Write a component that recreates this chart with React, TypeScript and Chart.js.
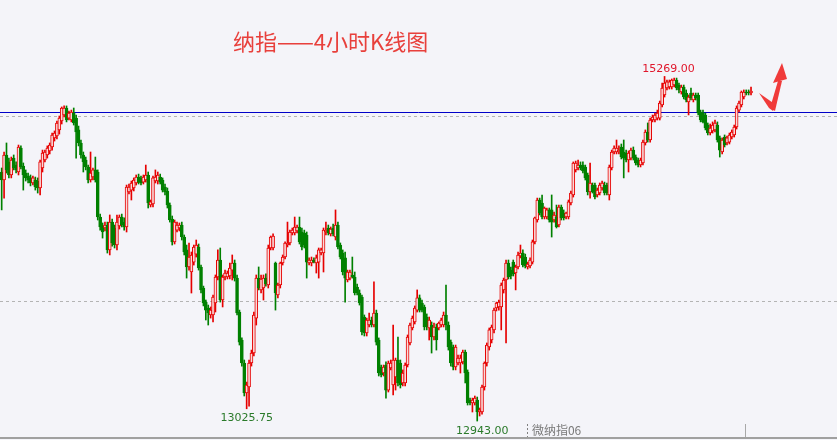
import React, { useEffect, useRef } from "react";
import { Chart, registerables } from "chart.js";

Chart.register(...registerables);

// ---- 4-hour candles (OHLC), oldest first ----
const opens = [
  14624, 14570, 14739, 14692, 14604, 14718, 14671, 14624, 14786, 14664,
  14617, 14597, 14584, 14550, 14570, 14563, 14516, 14651, 14705, 14739,
  14766, 14793, 14854, 14867, 14908, 14968, 15009, 15056, 14988, 14975,
  15022, 14988, 14908, 14820, 14739, 14705, 14658, 14570, 14590, 14638,
  14624, 14320, 14260, 14246, 14266, 14098, 14286, 14246, 14131, 14260,
  14320, 14286, 14253, 14489, 14502, 14516, 14550, 14590, 14584, 14556,
  14570, 14604, 14401, 14408, 14563, 14563, 14590, 14570, 14523, 14496,
  14401, 14307, 14152, 14232, 14246, 14266, 14185, 14098, 13983, 13949,
  14016, 14070, 14118, 13983, 13841, 13746, 13706, 13659, 13659, 13740,
  13915, 14030, 13760, 13915, 13915, 13922, 13962, 14010, 13908, 13679,
  13490, 13335, 13132, 13173, 13335, 13402, 13638, 13908, 13828, 13841,
  13908, 13861, 14111, 14111, 14010, 13794, 13861, 14010, 14050, 14131,
  14145, 14212, 14212, 14226, 14253, 14219, 14212, 14199, 14010, 14010,
  14030, 14010, 14016, 14077, 14077, 14219, 14246, 14206, 14246, 14185,
  14266, 14131, 14077, 14044, 13895, 13908, 13929, 13915, 13848, 13807,
  13780, 13645, 13537, 13591, 13625, 13591, 13672, 13490, 13308, 13267,
  13321, 13152, 13301, 13186, 13240, 13355, 13335, 13200, 13200, 13321,
  13470, 13571, 13612, 13692, 13774, 13740, 13713, 13645, 13571, 13591,
  13510, 13578, 13571, 13591, 13591, 13659, 13591, 13476, 13443, 13308,
  13335, 13335, 13342, 13409, 13274, 13085, 13065, 13065,
  13085, 13004, 13004, 13173, 13335, 13443, 13490, 13558, 13706, 13713, 13713,
  13828, 13895, 14010, 13962,
  14016, 13942, 13983, 14057, 14077, 14050, 13983, 13990,
  14016, 14152, 14300, 14435, 14415, 14320, 14320, 14368, 14368, 14300,
  14320, 14266, 14388, 14347, 14320, 14320, 14415, 14469, 14638,
  14651, 14671, 14671, 14658, 14604, 14489, 14536, 14536, 14469, 14482,
  14516, 14536, 14536, 14469, 14651, 14759, 14759, 14759, 14793, 14759,
  14752, 14705, 14718, 14772, 14725, 14705, 14671, 14685, 14820, 14894,
  14840, 14975, 14975, 14988, 14988, 15076, 15144, 15191,
  15198, 15198, 15211, 15245, 15211, 15164, 15198, 15157, 15097, 15157, 15110,
  15144, 15144, 15029, 15022, 15009, 14941, 14887, 14901,
  14908, 14941, 14854, 14759, 14860, 14820, 14826, 14860, 14874, 14928,
  15042, 15076, 15130, 15164,
  15164, 15157,
];

const highs = [
  14651, 14759, 14820, 14718, 14725, 14739, 14692, 14806, 14800, 14685,
  14638, 14617, 14604, 14597, 14590, 14584, 14705, 14772, 14772, 14800,
  14820, 14887, 14901, 14968, 15002, 15063, 15070, 15070, 15036, 15042,
  15056, 15009, 14934, 14840, 14759, 14725, 14671, 14759, 14651, 14725,
  14638, 14340, 14280, 14286, 14286, 14334, 14307, 14266, 14334, 14334,
  14340, 14314, 14536, 14543, 14563, 14584, 14604, 14610, 14597, 14604,
  14671, 14624, 14435, 14597, 14638, 14624, 14610, 14584, 14543, 14516,
  14415, 14327, 14300, 14286, 14280, 14286, 14199, 14131, 14145, 14084,
  14131, 14165, 14138, 13996, 13854, 13760, 13726, 13713, 13794, 13929,
  14098, 14111, 13929, 13962, 13956, 14010, 14064, 14030, 13929, 13692,
  13504, 13355, 13206, 13355, 13422, 13679, 13929, 13983, 13929, 13929,
  13936, 14131, 14192, 14206, 14016, 13875, 14016, 14064, 14152, 14286,
  14232, 14246, 14320, 14266, 14320, 14246, 14232, 14219, 14044, 14050,
  14044, 14064, 14111, 14111, 14246, 14286, 14266, 14253, 14273, 14368,
  14286, 14145, 14098, 14084, 13962, 13962, 14050, 13949, 13868, 13828,
  13794, 13659, 13638, 13672, 13645, 13882, 13692, 13504, 13321, 13321,
  13342, 13348, 13355, 13591, 13368, 13510, 13355, 13288, 13335, 13524,
  13605, 13652, 13720, 13828, 13794, 13760, 13726, 13666, 13645, 13612,
  13605, 13598, 13612, 13638, 13679, 13861, 13612, 13490, 13456, 13456,
  13389, 13389, 13422, 13422, 13288, 13098, 13098, 13112,
  13105, 13031, 13186, 13342, 13470, 13571, 13591, 13706, 13746, 13760, 13875,
  13908, 14030, 14030, 13983,
  14030, 13996, 14084, 14131, 14098, 14070, 14016, 14044,
  14165, 14320, 14448, 14448, 14469, 14388, 14381, 14381, 14469, 14354,
  14401, 14401, 14401, 14368, 14354, 14435, 14496, 14692, 14698,
  14705, 14692, 14692, 14671, 14617, 14685, 14550, 14550, 14516, 14550,
  14563, 14556, 14550, 14671, 14772, 14800, 14840, 14800, 14813, 14840,
  14772, 14766, 14786, 14793, 14739, 14718, 14718, 14840, 14908, 14955,
  14988, 15009, 15022, 15042, 15103, 15225, 15269, 15245,
  15245, 15252, 15258, 15258, 15225, 15211, 15211, 15178, 15144, 15191, 15157,
  15157, 15157, 15042, 15042, 15022, 14955, 14948, 14962,
  14975, 14962, 14867, 14854, 14874, 14867, 14887, 14908, 14941, 15070,
  15103, 15171, 15178, 15178,
  15178, 15198,
];

const lows = [
  14368, 14448, 14617, 14584, 14584, 14638, 14617, 14604, 14644, 14502,
  14563, 14550, 14530, 14536, 14502, 14482, 14469, 14624, 14692, 14718,
  14746, 14772, 14833, 14847, 14880, 14948, 14995, 14962, 14975, 14962,
  14941, 14718, 14800, 14718, 14624, 14638, 14550, 14556, 14570, 14556,
  14300, 14232, 14178, 14226, 14077, 14064, 14124, 14111, 14098, 14239,
  14253, 14232, 14219, 14476, 14435, 14496, 14536, 14543, 14536, 14543,
  14556, 14381, 14388, 14388, 14550, 14543, 14543, 14489, 14469, 14381,
  14286, 14131, 14138, 14219, 14226, 14165, 14064, 13908, 13962, 13807,
  13996, 14050, 13962, 13807, 13720, 13625, 13591, 13638, 13612, 13679,
  13895, 13746, 13713, 13895, 13902, 13902, 13895, 13888, 13659, 13456,
  13314, 13112, 13025.75, 13044, 13314, 13382, 13591, 13828, 13807, 13760,
  13854, 13841, 14098, 14098, 13692, 13774, 13841, 13996, 14037, 14118,
  14131, 14199, 14199, 14212, 14138, 14098, 14111, 13908, 13996, 13990,
  14010, 13942, 13908, 14064, 13949, 14199, 14199, 14192, 14192, 14165,
  14104, 14037, 13929, 13746, 13882, 13895, 13908, 13794, 13794, 13726,
  13524, 13517, 13517, 13578, 13578, 13578, 13456, 13247, 13240, 13247,
  13098, 13139, 13288, 13119, 13152, 13180, 13166, 13180, 13180, 13308,
  13456, 13558, 13598, 13679, 13679, 13679, 13558, 13558, 13490, 13402,
  13490, 13422, 13558, 13578, 13578, 13558, 13422, 13314, 13288, 13288,
  13321, 13267, 13328, 13200, 13051, 13051, 13004, 13051,
  12943, 12977, 12990, 13152, 13314, 13422, 13470, 13537, 13686, 13692, 13558,
  13807, 13470, 13902, 13902,
  13922, 13828, 13969, 14044, 13983, 13976, 13969, 13976,
  14003, 14138, 14286, 14334, 14307, 14307, 14307, 14286, 14185, 14286,
  14246, 14253, 14300, 14300, 14307, 14307, 14401, 14455, 14624,
  14638, 14638, 14617, 14570, 14469, 14448, 14482, 14442, 14455, 14469,
  14502, 14469, 14469, 14435, 14638, 14746, 14746, 14746, 14712, 14584,
  14692, 14624, 14705, 14705, 14671, 14658, 14658, 14671, 14806, 14826,
  14826, 14962, 14962, 14975, 14975, 15063, 15130, 15178,
  15184, 15184, 15198, 15178, 15157, 15150, 15117, 15097, 15009, 15110, 15097,
  15110, 15009, 14962, 14955, 14908, 14874, 14874, 14887,
  14894, 14826, 14725, 14746, 14793, 14806, 14813, 14847, 14860, 14914,
  15029, 15063, 15117, 15144,
  15144, 15144,
];

const closes = [
  14570, 14739, 14638, 14604, 14705, 14651, 14638, 14793, 14658, 14604,
  14584, 14570, 14550, 14584, 14523, 14516, 14692, 14752, 14759, 14786,
  14806, 14874, 14887, 14955, 14988, 15056, 15056, 14975, 15022, 15029,
  14955, 14894, 14820, 14739, 14692, 14658, 14570, 14617, 14638, 14570,
  14320, 14253, 14219, 14266, 14098, 14286, 14145, 14131, 14286, 14320,
  14266, 14253, 14523, 14523, 14550, 14570, 14590, 14556, 14550, 14590,
  14604, 14415, 14422, 14584, 14590, 14604, 14556, 14502, 14489, 14401,
  14300, 14152, 14286, 14266, 14266, 14185, 14084, 13983, 14050, 14064,
  14118, 14131, 13976, 13828, 13740, 13692, 13672, 13692, 13780, 13915,
  14030, 13760, 13915, 13942, 13942, 13976, 14010, 13908, 13672, 13476,
  13335, 13132, 13186, 13335, 13402, 13659, 13908, 13841, 13902, 13908,
  13868, 14111, 14185, 14192, 13807, 13861, 14010, 14050, 14145, 14145,
  14219, 14232, 14253, 14253, 14152, 14118, 14131, 14016, 14030, 14030,
  14016, 14044, 14098, 14098, 14232, 14232, 14212, 14239, 14206, 14266,
  14118, 14050, 13949, 13908, 13949, 13949, 13915, 13807, 13807, 13740,
  13544, 13537, 13625, 13625, 13591, 13672, 13476, 13267, 13254, 13308,
  13152, 13335, 13335, 13355, 13355, 13200, 13186, 13267, 13321, 13510,
  13591, 13638, 13706, 13774, 13692, 13692, 13578, 13578, 13625, 13510,
  13578, 13490, 13605, 13625, 13659, 13591, 13443, 13335, 13308, 13443,
  13368, 13368, 13409, 13267, 13065, 13065, 13085, 13098,
  13004, 13018, 13173, 13335, 13456, 13558, 13578, 13692, 13740, 13746, 13861,
  13895, 14010, 13915, 13922,
  13936, 13983, 14064, 14077, 13996, 13990, 14003, 14030,
  14152, 14314, 14435, 14347, 14320, 14381, 14368, 14300, 14286, 14334,
  14253, 14388, 14314, 14314, 14347, 14422, 14482, 14685, 14685,
  14671, 14651, 14631, 14584, 14489, 14550, 14489, 14455, 14502, 14536,
  14550, 14482, 14482, 14658, 14759, 14786, 14786, 14772, 14725, 14718,
  14705, 14752, 14772, 14718, 14685, 14671, 14705, 14826, 14894, 14840,
  14975, 14995, 15009, 15022, 15090, 15191, 15225, 15232,
  15232, 15245, 15245, 15191, 15178, 15198, 15130, 15110, 15130, 15124, 15144,
  15124, 15022, 14975, 14962, 14921, 14887, 14921, 14941,
  14955, 14840, 14772, 14840, 14806, 14854, 14874, 14894, 14928, 15056,
  15090, 15164, 15164, 15157,
  15157, 15171,
];

// ---- reference levels and annotations ----
const gridLevels = [15000, 13750];
const resistanceLevel = 15030;
const sessionBreaks = [218.7, 309.5];
const sessionLabel = "微纳指06";
const titleText = "纳指——4小时K线图";
const arrowAnchor = { index: 321.15, value: 15042 };

const UP = "#e60000";
const DOWN = "#008000";
const BG = "#f4f4f9";

export default function App() {
  const ref = useRef<HTMLCanvasElement>(null);

  useEffect(() => {
    const canvas = ref.current;
    if (!canvas) return;
    const n = Math.min(opens.length, highs.length, lows.length, closes.length);
    const idx = Array.from({ length: n }, (_, i) => i);
    const isUp = idx.map((i) => closes[i] >= opens[i]);
    const color = idx.map((i) => (isUp[i] ? UP : DOWN));
    const bodyFill = idx.map((i) => (isUp[i] ? "#f9dada" : DOWN));
    const bodyData = idx.map((i) => ({
      x: i,
      y: [Math.min(opens[i], closes[i]), Math.max(opens[i], closes[i])],
    }));
    const wickData = idx.map((i) => ({ x: i, y: [lows[i], highs[i]] }));

    // markers derived from the data
    let hiI = 0;
    let loI = 0;
    idx.forEach((i) => {
      if (highs[i] > highs[hiI]) hiI = i;
      if (lows[i] < lows[loI]) loI = i;
    });
    let loI1 = 0;
    for (let i = 0; i < 150; i++) if (lows[i] < lows[loI1]) loI1 = i;
    const markers = [
      { i: hiI, v: highs[hiI], c: "#e0162b", dx: 4, dy: -4.5 },
      { i: loI1, v: lows[loI1], c: "#2a7a2a", dx: 0, dy: 12 },
      { i: loI, v: lows[loI], c: "#2a7a2a", dx: 5, dy: 13 },
    ];

    const overlay = {
      id: "overlay",
      beforeDatasetsDraw(chart: any) {
        const { ctx, width, height } = chart;
        const x = chart.scales.x;
        const y = chart.scales.y;
        ctx.save();
        ctx.lineWidth = 1;
        ctx.setLineDash([3, 3]);
        ctx.strokeStyle = "#b4b4b4";
        gridLevels.forEach((v) => {
          const py = Math.round(y.getPixelForValue(v)) + 0.5;
          ctx.beginPath();
          ctx.moveTo(0, py);
          ctx.lineTo(width, py);
          ctx.stroke();
        });
        ctx.setLineDash([]);
        ctx.strokeStyle = "#0000c8";
        const ry = Math.round(y.getPixelForValue(resistanceLevel)) + 0.5;
        ctx.beginPath();
        ctx.moveTo(0, ry);
        ctx.lineTo(width, ry);
        ctx.stroke();
        // bottom axis line
        ctx.strokeStyle = "#a0a0a0";
        ctx.lineWidth = 2;
        ctx.beginPath();
        ctx.moveTo(0, height - 2);
        ctx.lineTo(width, height - 2);
        ctx.stroke();
        // session separators
        ctx.lineWidth = 1;
        sessionBreaks.forEach((b, k) => {
          const px = Math.round(x.getPixelForValue(b)) + 0.5;
          ctx.strokeStyle = k === 0 ? "#808080" : "#a8a8a8";
          ctx.setLineDash(k === 0 ? [2, 2] : []);
          ctx.beginPath();
          ctx.moveTo(px, height - 16);
          ctx.lineTo(px, height - 3);
          ctx.stroke();
        });
        ctx.setLineDash([]);
        ctx.restore();
      },
      afterDatasetsDraw(chart: any) {
        const { ctx, height } = chart;
        const x = chart.scales.x;
        const y = chart.scales.y;
        ctx.save();
        ctx.font = '11px "DejaVu Sans"';
        ctx.textAlign = "center";
        ctx.textBaseline = "alphabetic";
        markers.forEach((m) => {
          ctx.fillStyle = m.c;
          ctx.fillText(
            m.v.toFixed(2),
            x.getPixelForValue(m.i) + m.dx,
            y.getPixelForValue(m.v) + m.dy
          );
        });
        // session label
        ctx.font = '12px "Noto Sans CJK SC"';
        ctx.textAlign = "left";
        ctx.textBaseline = "middle";
        ctx.fillStyle = "#7a7a7a";
        ctx.fillText(sessionLabel, x.getPixelForValue(sessionBreaks[0]) + 5, height - 10);
        // hand-drawn style arrow
        const ax = x.getPixelForValue(arrowAnchor.index);
        const ay = y.getPixelForValue(arrowAnchor.value);
        const poly = (pts: number[][]) => {
          ctx.beginPath();
          pts.forEach((p, k) => (k ? ctx.lineTo(ax + p[0], ay + p[1]) : ctx.moveTo(ax + p[0], ay + p[1])));
          ctx.closePath();
          ctx.fill();
        };
        ctx.fillStyle = "#f03a3a";
        poly([[-14, -17], [3, -5], [0, 1], [-4, -2]]);
        poly([[-3, -2], [2, 1], [9, -29], [5, -29]]);
        poly([[0, -27], [14, -31], [9, -47]]);
        ctx.restore();
      },
    };

    const chart = new Chart(canvas, {
      type: "bar",
      data: {
        datasets: [
          {
            label: "body",
            data: bodyData as any,
            backgroundColor: bodyFill,
            borderColor: color,
            borderWidth: 1,
            borderSkipped: false,
            barThickness: 3,
            grouped: false,
            order: 0,
          } as any,
          {
            label: "wick",
            data: wickData as any,
            backgroundColor: color,
            borderWidth: 0,
            barThickness: 1,
            grouped: false,
            order: 1,
          } as any,
        ],
      },
      options: {
        animation: false,
        responsive: true,
        maintainAspectRatio: false,
        events: [],
        layout: { padding: 0 },
        plugins: { legend: { display: false }, tooltip: { enabled: false } },
        scales: {
          x: { type: "linear", min: -0.7, max: 347.8, offset: false, display: false },
          y: { min: 12815, max: 15785, display: false },
        },
      },
      plugins: [overlay],
    });
    return () => chart.destroy();
  }, []);

  return (
    <div
      style={{
        position: "fixed",
        left: 0,
        top: 0,
        width: "837px",
        height: "440px",
        background: BG,
        overflow: "hidden",
      }}
    >
      <canvas ref={ref} />
      <div
        style={{
          position: "absolute",
          left: "233px",
          top: "27px",
          fontFamily: '"Noto Sans CJK SC", sans-serif',
          fontSize: "22px",
          lineHeight: "26px",
          color: "#e8403c",
          whiteSpace: "nowrap",
        }}
      >
        {titleText}
      </div>
    </div>
  );
}
